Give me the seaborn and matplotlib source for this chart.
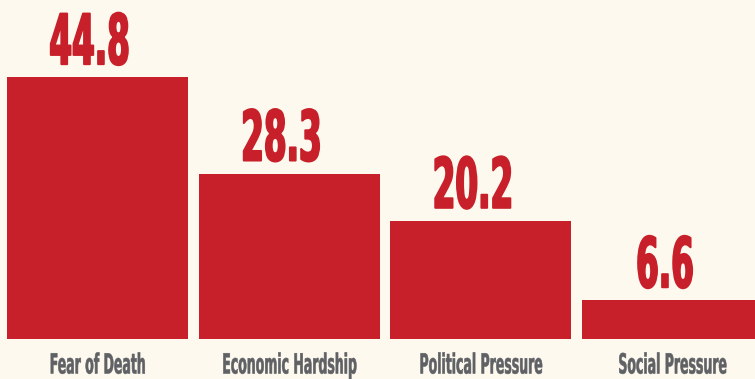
import matplotlib
matplotlib.use("Agg")
import matplotlib.pyplot as plt
import seaborn as sns
from matplotlib.patheffects import AbstractPathEffect
from matplotlib.transforms import Affine2D

# Data
categories = ["Fear of Death", "Economic Hardship", "Political Pressure", "Social Pressure"]
values = [44.8, 28.3, 20.2, 6.6]
value_labels = ["44.8", "28.3", "20.2", "6.6"]

BG = "#fdf9ee"
RED = "#c8202a"
GRAY = "#5f6165"


class Condensed(AbstractPathEffect):
    """Squeeze glyphs horizontally about their centre, with an optional
    same-colour outline to keep the strokes heavy."""

    def __init__(self, sx=0.45, stroke=0.0):
        super().__init__()
        self.sx = sx
        self.stroke = stroke

    def draw_path(self, renderer, gc, tpath, affine, rgbFace=None):
        ext = tpath.transformed(affine).get_extents()
        cx = 0.5 * (ext.x0 + ext.x1)
        aff = affine + Affine2D().translate(-cx, 0).scale(self.sx, 1).translate(cx, 0)
        if self.stroke and rgbFace is not None:
            gc0 = renderer.new_gc()
            gc0.copy_properties(gc)
            gc0.set_linewidth(self.stroke)
            gc0.set_foreground(rgbFace)
            gc0.set_joinstyle("round")
            renderer.draw_path(gc0, tpath, aff, rgbFace)
            gc0.restore()
        else:
            renderer.draw_path(gc, tpath, aff, rgbFace)


sns.set_theme(style="white")
plt.rcParams["font.family"] = ["DejaVu Sans"]

fig = plt.figure(figsize=(7.55, 3.79), dpi=100, facecolor=BG)
ax = fig.add_axes([0, 40 / 379, 1, 339 / 379])
ax.set_facecolor(BG)

sns.barplot(x=categories, y=values, color=RED, saturation=1, width=0.944,
            linewidth=0, ax=ax)

ax.set_xlim(-0.509, 3.430)
ax.set_ylim(0, 58.05)
for s in ax.spines.values():
    s.set_visible(False)
ax.set_yticks([])
ax.set_xlabel("")
ax.set_ylabel("")

# Category labels in a condensed bold grey
ax.tick_params(axis="x", length=0, pad=9, labelsize=20, labelcolor=GRAY)
for tick in ax.xaxis.get_major_ticks():
    tick.label1.set_fontweight("bold")
    tick.label1.set_path_effects([Condensed(0.45, 0.4)])

# Value labels above the bars
texts = ax.bar_label(ax.containers[0], labels=value_labels, padding=9,
                     fontsize=50, fontweight="bold", color=RED)
for t in texts:
    t.set_va("baseline")
    t.xyann = (-5.5, 9.5)
    t.set_path_effects([Condensed(0.47, 1.4)])

fig.savefig("out.png", dpi=100, facecolor=BG)
